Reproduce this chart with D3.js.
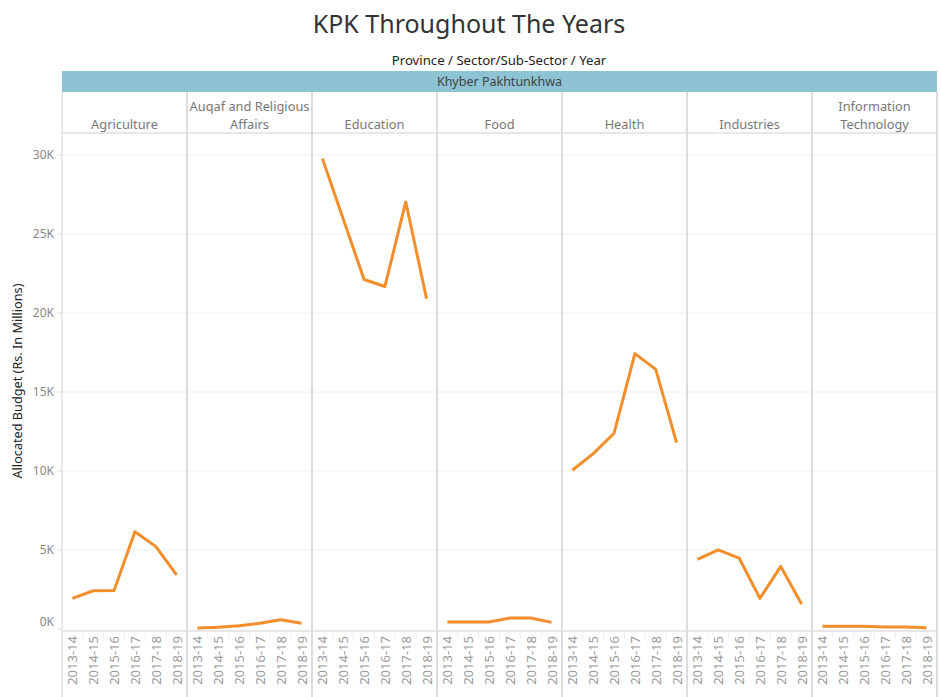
<!DOCTYPE html>
<html>
<head>
<meta charset="utf-8">
<script src="https://cdn.jsdelivr.net/npm/d3@7"></script>
<style>
	body { margin: 0; background: #fff; }
	svg { font-family: "Noto Sans", "Open Sans", sans-serif; }
</style>
</head>
<body>
<svg id="chart" width="940" height="697"></svg>
<script>
var sectors = ['Agriculture', 'Auqaf and Religious Affairs', 'Education', 'Food', 'Health', 'Industries', 'Information Technology'];
var sectorLines = [['Agriculture'], ['Auqaf and Religious', 'Affairs'], ['Education'], ['Food'], ['Health'], ['Industries'], ['Information', 'Technology']];
var years = ['2013-14', '2014-15', '2015-16', '2016-17', '2017-18', '2018-19'];

// allocated budget, Rs. in millions
var agriculture = [1940, 2420, 2430, 6150, 5230, 3430];
var auqaf = [60, 110, 210, 360, 590, 360];
var education = [29770, 25950, 22120, 21680, 27030, 20900];
var food = [440, 440, 440, 700, 700, 420];
var health = [10050, 11100, 12390, 17430, 16430, 11800];
var industries = [4400, 5010, 4490, 1940, 3960, 1580];
var infoTech = [170, 170, 170, 130, 130, 80];
var seriesValues = [agriculture, auqaf, education, food, health, industries, infoTech];

var yTicks = [0, 5000, 10000, 15000, 20000, 25000, 30000];

var svg = d3.select('#chart');
var g = svg.append('g');

var left = 62, right = 937;
var bandTop = 71, bandBottom = 92, headBottom = 133;
var plotTop = 133, plotBottom = 631, bottom = 697;
var sepColor = '#dcdcdc';

var xPanel = d3.scaleBand().domain(sectors).range([left, right]);
var y = d3.scaleLinear().domain([0, 30000]).range([629, 155]);

function drawTitles() {

	g.append('text')
		.attr('x', 469)
		.attr('y', 33)
		.attr('text-anchor', 'middle')
		.style('font-size', '25px')
		.style('fill', '#333')
		.text('KPK Throughout The Years');

	g.append('text')
		.attr('x', 499)
		.attr('y', 65)
		.attr('text-anchor', 'middle')
		.style('font-size', '13.2px')
		.style('fill', '#222')
		.text('Province / Sector/Sub-Sector / Year');

	g.append('text')
		.attr('transform', 'translate(22,' + 381 + ') rotate(-90)')
		.attr('text-anchor', 'middle')
		.style('font-size', '12.7px')
		.style('fill', '#222')
		.text('Allocated Budget (Rs. In Millions)');
}

function drawHeaders() {

	g.append('rect') // province band
		.attr('x', left)
		.attr('y', bandTop)
		.attr('width', right - left)
		.attr('height', bandBottom - bandTop)
		.style('fill', '#8dc3d3');

	g.append('text')
		.attr('x', (left + right) / 2)
		.attr('y', bandTop + 15)
		.attr('text-anchor', 'middle')
		.style('font-size', '12.5px')
		.style('fill', '#444')
		.text('Khyber Pakhtunkhwa');

	g.append('line') // under sector names
		.attr('x1', left)
		.attr('y1', headBottom)
		.attr('x2', right)
		.attr('y2', headBottom)
		.attr('stroke', '#d0d0d0')
		.attr('stroke-width', 1);

	sectors.forEach(function(s, i) {
		var lines = sectorLines[i];
		var cx = xPanel(s) + xPanel.bandwidth() / 2;
		lines.forEach(function(t, j) {
			g.append('text')
				.attr('x', cx)
				.attr('y', 129 - (lines.length - 1 - j) * 18)
				.attr('text-anchor', 'middle')
				.style('font-size', '12.8px')
				.style('fill', '#777')
				.text(t);
		});
	});
}

function drawGrid() {

	yTicks.forEach(function(t) {
		if (t > 0) {
			g.append('line')
				.attr('x1', left)
				.attr('x2', right)
				.attr('y1', y(t))
				.attr('y2', y(t))
				.attr('stroke', '#f0f0f0')
				.attr('stroke-width', 1);
		}
		g.append('line') // tick mark
			.attr('x1', left - 5)
			.attr('x2', left)
			.attr('y1', y(t))
			.attr('y2', y(t))
			.attr('stroke', '#e0e0e0')
			.attr('stroke-width', 1);
		g.append('text')
			.attr('x', left - 8)
			.attr('y', t == 0 ? y(t) - 3 : y(t) + 4)
			.attr('text-anchor', 'end')
			.style('font-size', '12px')
			.style('fill', '#888')
			.text(t / 1000 + 'K');
	});

	g.append('line') // zero line
		.attr('x1', left)
		.attr('x2', right)
		.attr('y1', plotBottom)
		.attr('y2', plotBottom)
		.attr('stroke', '#cfcfcf')
		.attr('stroke-width', 1);

	g.append('line') // left axis
		.attr('x1', left)
		.attr('x2', left)
		.attr('y1', bandBottom)
		.attr('y2', bottom)
		.attr('stroke', '#d6d6d6')
		.attr('stroke-width', 1);

	sectors.forEach(function(s, i) {
		var x0 = xPanel(s) + xPanel.bandwidth();
		g.append('line')
			.attr('x1', x0)
			.attr('x2', x0)
			.attr('y1', bandBottom)
			.attr('y2', bottom)
			.attr('stroke', sepColor)
			.attr('stroke-width', 2);
	});
}

function drawPanels() {

	sectors.forEach(function(s, i) {
		var x = d3.scaleBand().domain(years)
			.range([xPanel(s), xPanel(s) + xPanel.bandwidth()]);

		// small separators between year labels
		years.forEach(function(yr, k) {
			if (k == 0) return;
			g.append('line')
				.attr('x1', x(yr))
				.attr('x2', x(yr))
				.attr('y1', plotBottom + 1)
				.attr('y2', plotBottom + 8)
				.attr('stroke', '#eeeeee')
				.attr('stroke-width', 1);
		});

		years.forEach(function(yr) {
			var cx = x(yr) + x.bandwidth() / 2;
			g.append('text')
				.attr('transform', 'translate(' + (cx + 5) + ',' + (plotBottom + 5) + ') rotate(-90)')
				.attr('text-anchor', 'end')
				.style('font-size', '13px')
				.style('fill', '#999')
				.text(yr);
		});

		var line = d3.line()
			.x(function(d, k) { return x(years[k]) + x.bandwidth() / 2; })
			.y(function(d) { return y(d); });

		g.append('path')
			.datum(seriesValues[i])
			.attr('d', line)
			.style('fill', 'none')
			.attr('stroke', '#f28e2b')
			.attr('stroke-width', 3)
			.attr('stroke-linejoin', 'round');
	});
}

drawTitles();
drawHeaders();
drawGrid();
drawPanels();
</script>
</body>
</html>
